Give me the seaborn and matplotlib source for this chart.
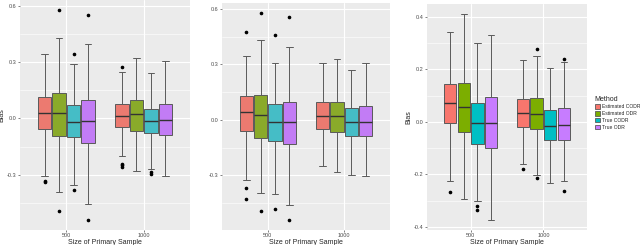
import numpy as np
import pandas as pd
import matplotlib
matplotlib.use("Agg")
import matplotlib.pyplot as plt
from matplotlib.ticker import MultipleLocator, FormatStrFormatter
import seaborn as sns

# order of boxes in every panel: 500 x (4 methods), then 1000 x (4 methods)
sizes = ["500", "1000"]
methods = ["Estimated CODR", "Estimated ODR", "True CODR", "True ODR"]

# panel 1
p1_lo = [-0.309, -0.394, -0.352, -0.454, -0.198, -0.282, -0.270, -0.305]
p1_q1 = [-0.056, -0.095, -0.100, -0.132, -0.044, -0.065, -0.079, -0.090]
p1_med = [0.030, 0.026, -0.019, -0.012, 0.014, 0.021, -0.014, -0.009]
p1_q3 = [0.115, 0.136, 0.071, 0.100, 0.079, 0.097, 0.051, 0.074]
p1_hi = [0.344, 0.429, 0.291, 0.394, 0.247, 0.323, 0.242, 0.304]
p1_out = [[-0.335, -0.340], [0.574, -0.490], [0.344, -0.383], [0.552, -0.538],
          [0.274, -0.240, -0.250, -0.260], [], [-0.286, -0.296], []]

# panel 2
p2_lo = [-0.324, -0.396, -0.401, -0.461, -0.252, -0.283, -0.297, -0.306]
p2_q1 = [-0.063, -0.097, -0.115, -0.131, -0.052, -0.068, -0.085, -0.090]
p2_med = [0.041, 0.025, -0.014, -0.013, 0.023, 0.020, -0.013, -0.011]
p2_q3 = [0.131, 0.135, 0.085, 0.097, 0.095, 0.099, 0.065, 0.076]
p2_hi = [0.346, 0.432, 0.306, 0.392, 0.306, 0.328, 0.270, 0.310]
p2_out = [[0.473, -0.369, -0.430], [0.576, -0.491], [0.459, -0.480], [0.558, -0.540],
          [], [], [], []]

# panel 3
p3_lo = [-0.227, -0.293, -0.303, -0.373, -0.159, -0.201, -0.233, -0.227]
p3_q1 = [-0.004, -0.038, -0.083, -0.098, -0.018, -0.027, -0.070, -0.070]
p3_med = [0.070, 0.057, -0.006, -0.003, 0.034, 0.029, -0.015, -0.013]
p3_q3 = [0.146, 0.149, 0.073, 0.096, 0.087, 0.092, 0.045, 0.052]
p3_hi = [0.344, 0.410, 0.299, 0.331, 0.236, 0.252, 0.206, 0.229]
p3_out = [[-0.269], [], [-0.321, -0.336], [], [-0.180], [0.279, -0.215], [], [0.238, -0.265]]

soft_colors = ["#EC7A70", "#8AAA2A", "#45BDC6", "#C27CF5"]
gg_colors = ["#F8766D", "#7CAE00", "#00BFC4", "#C77CFF"]


def box_sample(lo, q1, med, q3, hi, outs):
    # sample whose quartiles / whiskers / fliers match the values
    low_out = sorted(o for o in outs if o < q1)
    high_out = sorted(o for o in outs if o > q3)
    m = max(len(low_out), len(high_out)) + 1
    low = low_out + [lo] * (m - len(low_out))
    high = [hi] * (m - len(high_out)) + high_out
    return low + [q1] * m + [med] * m + [q3] + high


def build_frame(lo, q1, med, q3, hi, outs):
    rows = []
    i = 0
    for s in sizes:
        for mth in methods:
            for v in box_sample(lo[i], q1[i], med[i], q3[i], hi[i], outs[i]):
                rows.append((s, mth, v))
            i += 1
    return pd.DataFrame(rows, columns=["size", "method", "bias"])


sns.set_theme(style="darkgrid")
plt.rcParams["font.family"] = ["Liberation Sans", "DejaVu Sans"]
plt.rcParams["axes.unicode_minus"] = False

fig = plt.figure(figsize=(6.4, 2.45), dpi=100)
panels = [
    (build_frame(p1_lo, p1_q1, p1_med, p1_q3, p1_hi, p1_out), soft_colors,
     [20 / 640, 15 / 245, 170 / 640, 230 / 245], 0.3, True),
    (build_frame(p2_lo, p2_q1, p2_med, p2_q3, p2_hi, p2_out), soft_colors,
     [222 / 640, 15 / 245, 168 / 640, 227 / 245], 0.3, False),
    (build_frame(p3_lo, p3_q1, p3_med, p3_q3, p3_hi, p3_out), gg_colors,
     [427 / 640, 15 / 245, 160 / 640, 226 / 245], 0.2, True),
]

for df, colors, rect, step, show_ylabel in panels:
    ax = fig.add_axes(rect)
    ax.set_facecolor("#EBEBEB")
    sns.boxplot(data=df, x="size", y="bias", hue="method", order=sizes,
                hue_order=methods, palette=colors, saturation=1, width=0.75,
                gap=0.08, linewidth=0.7, linecolor="#5A5A5A", fliersize=1.6,
                flierprops=dict(marker="o", markerfacecolor="black",
                                markeredgecolor="black"),
                medianprops=dict(color="#333333", linewidth=1.0),
                legend=False, ax=ax)
    span = df["bias"].max() - df["bias"].min()
    ax.set_ylim(df["bias"].min() - 0.05 * span, df["bias"].max() + 0.05 * span)
    ax.set_xlim(-0.6, 1.6)
    ax.yaxis.set_major_locator(MultipleLocator(step))
    ax.yaxis.set_minor_locator(MultipleLocator(step / 2))
    ax.yaxis.set_major_formatter(FormatStrFormatter("%.1f"))
    ax.grid(which="major", color="white", linewidth=0.8)
    ax.grid(which="minor", axis="y", color="white", linewidth=0.4)
    ax.set_axisbelow(True)
    for sp in ax.spines.values():
        sp.set_visible(False)
    ax.tick_params(axis="both", which="major", labelsize=4, colors="#4D4D4D",
                   length=1.5, width=0.5, pad=1, left=True, bottom=True)
    ax.tick_params(axis="y", which="minor", length=0)
    ax.set_xlabel("Size of Primary Sample", fontsize=5, labelpad=0.5)
    ax.set_ylabel("Bias" if show_ylabel else "", fontsize=5, labelpad=1)

handles = [plt.Rectangle((0, 0), 1, 1, facecolor=c, edgecolor="#5A5A5A", linewidth=0.6)
           for c in gg_colors]
leg = fig.legend(handles, methods, title="Method", loc="upper left",
                 bbox_to_anchor=(591 / 640, 1 - 92 / 245), frameon=False,
                 fontsize=3.6, title_fontsize=5, handlelength=1.0, handleheight=1.0,
                 handletextpad=0.5, labelspacing=0.35, borderpad=0.2)
leg._legend_box.align = "left"

fig.savefig("out.png", dpi=100, facecolor="white")
